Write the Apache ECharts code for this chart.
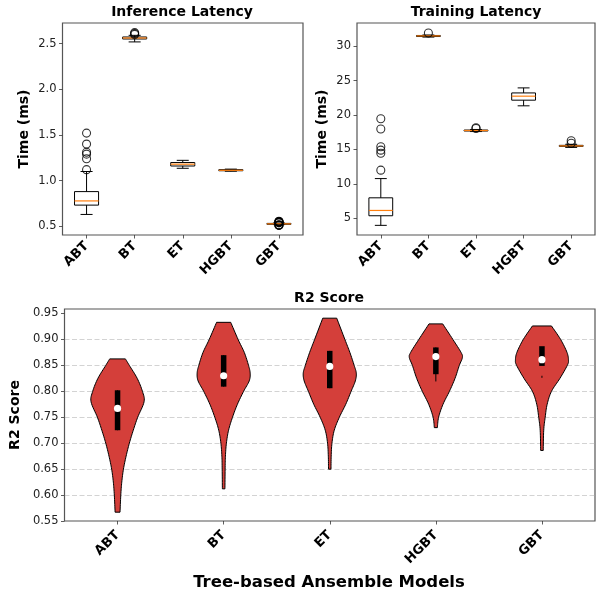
<!DOCTYPE html>
<html><head><meta charset="utf-8">
<script src="https://cdn.jsdelivr.net/npm/echarts@6/dist/echarts.min.js"></script>
<style>html,body{margin:0;padding:0;background:#fff}#c{width:605px;height:595px}</style>
</head><body><div id="c"></div>
<script>
const categories = ['ABT','BT','ET','HGBT','GBT'];

// Boxplots: [lower whisker, Q1, median, Q3, upper whisker]
const inferenceBoxes = [
  [0.63, 0.732, 0.778, 0.88, 1.10],
  [2.518, 2.55, 2.561, 2.572, 2.59],
  [1.135, 1.16, 1.18, 1.198, 1.222],
  [1.103, 1.108, 1.113, 1.12, 1.126],
  [0.519, 0.522, 0.527, 0.532, 0.536]
];
const inferenceOutliers = [
  [1.12, 1.24, 1.29, 1.31, 1.40, 1.52],
  [2.60, 2.61, 2.62],
  [],
  [],
  [0.510, 0.512, 0.514, 0.516, 0.538, 0.541, 0.544, 0.547, 0.550, 0.553, 0.556]
];
const trainingBoxes = [
  [4.0, 5.39, 6.16, 7.99, 10.78],
  [31.3, 31.38, 31.47, 31.53, 31.6],
  [17.6, 17.68, 17.75, 17.82, 17.9],
  [21.33, 22.15, 22.73, 23.2, 23.93],
  [15.3, 15.45, 15.52, 15.6, 15.75]
];
const trainingOutliers = [
  [12.0, 14.45, 14.9, 15.4, 17.96, 19.45],
  [31.9],
  [18.05, 18.15],
  [],
  [15.9, 16.27]
];
const inferenceTicks = [0.5, 1.0, 1.5, 2.0, 2.5];
const trainingTicks = [5, 10, 15, 20, 25, 30];
const r2Ticks = [0.55, 0.60, 0.65, 0.70, 0.75, 0.80, 0.85, 0.90, 0.95];

// R2 violins: estimated density profile (value, relative density), top to bottom
const r2ProfileABT = [0.8625, 0.85, 0.825, 0.80, 0.78, 0.75, 0.725, 0.70, 0.675, 0.65, 0.625, 0.60, 0.567];
const r2DensityABT = [8, 12, 20, 25.3, 27, 20.5, 16, 12, 8.7, 6, 4.3, 3.3, 2.5];
const r2ProfileBT = [0.933, 0.90, 0.875, 0.85, 0.835, 0.82, 0.80, 0.775, 0.75, 0.725, 0.70, 0.675, 0.65, 0.612];
const r2DensityBT = [7.2, 14.7, 21, 25.3, 27, 26, 20.3, 14, 9, 5, 2.8, 1.8, 1.5, 1.3];
const r2ProfileET = [0.941, 0.90, 0.875, 0.85, 0.835, 0.82, 0.80, 0.775, 0.75, 0.725, 0.70, 0.675, 0.65];
const r2DensityET = [7.3, 15.8, 21, 25.5, 27.7, 26.7, 22.3, 16.7, 10, 4.7, 2.3, 1.5, 1.3];
const r2ProfileHGBT = [0.930, 0.90, 0.875, 0.865, 0.85, 0.825, 0.80, 0.775, 0.75, 0.730];
const r2DensityHGBT = [6.7, 16.7, 24.7, 26, 23, 18.8, 13.3, 7, 2.7, 1.5];
const r2ProfileGBT = [0.926, 0.90, 0.875, 0.86, 0.85, 0.825, 0.80, 0.775, 0.75, 0.725, 0.686];
const r2DensityGBT = [9.7, 19, 25.5, 27, 25.8, 18.3, 9.7, 5.3, 3.3, 1.8, 1.3];
const r2Q1 = [0.725, 0.809, 0.806, 0.833, 0.849];
const r2Median = [0.767, 0.830, 0.848, 0.867, 0.861];
const r2Q3 = [0.802, 0.8697, 0.878, 0.8846, 0.887];
const r2WhiskerLow = [0.725, 0.809, 0.806, 0.819, 0.826];
const r2WhiskerHigh = [0.802, 0.8697, 0.878, 0.8846, 0.830];

const r2Profiles = [r2ProfileABT, r2ProfileBT, r2ProfileET, r2ProfileHGBT, r2ProfileGBT];
const r2Densities = [r2DensityABT, r2DensityBT, r2DensityET, r2DensityHGBT, r2DensityGBT];

const FONT = 'DejaVu Sans';

function boxRender(params, api) {
  const x = api.value(0);
  const band = api.size([1, 0])[0];
  const bw = band * 0.5, cw = bw * 0.5;
  const wl = api.coord([x, api.value(1)]);
  const q1 = api.coord([x, api.value(2)]);
  const md = api.coord([x, api.value(3)]);
  const q3 = api.coord([x, api.value(4)]);
  const wh = api.coord([x, api.value(5)]);
  const cx = q1[0];
  const ls = {stroke: '#000', lineWidth: 1};
  return {type: 'group', children: [
    {type: 'line', shape: {x1: cx, y1: wl[1], x2: cx, y2: q1[1]}, style: ls},
    {type: 'line', shape: {x1: cx, y1: q3[1], x2: cx, y2: wh[1]}, style: ls},
    {type: 'line', shape: {x1: cx - cw / 2, y1: wl[1], x2: cx + cw / 2, y2: wl[1]}, style: ls},
    {type: 'line', shape: {x1: cx - cw / 2, y1: wh[1], x2: cx + cw / 2, y2: wh[1]}, style: ls},
    {type: 'rect', shape: {x: cx - bw / 2, y: q3[1], width: bw, height: q1[1] - q3[1]}, style: {fill: 'none', stroke: '#000', lineWidth: 1}},
    {type: 'line', shape: {x1: cx - bw / 2, y1: md[1], x2: cx + bw / 2, y2: md[1]}, style: {stroke: '#ff7f0e', lineWidth: 1.2}}
  ]};
}

function catmull(P) {
  const out = [];
  const n = P.length;
  for (let i = 0; i < n - 1; i++) {
    const p0 = P[Math.max(i - 1, 0)], p1 = P[i], p2 = P[i + 1], p3 = P[Math.min(i + 2, n - 1)];
    const steps = 8;
    for (let s = 0; s < steps; s++) {
      const t = s / steps, t2 = t * t, t3 = t2 * t;
      const f = (a, b, c, d) => 0.5 * ((2 * b) + (-a + c) * t + (2 * a - 5 * b + 4 * c - d) * t2 + (-a + 3 * b - 3 * c + d) * t3);
      out.push([f(p0[0], p1[0], p2[0], p3[0]), f(p0[1], p1[1], p2[1], p3[1])]);
    }
  }
  out.push(P[n - 1]);
  return out;
}

function violinRender(params, api) {
  const i = params.dataIndex;
  const cat = api.value(0);
  const vals = r2Profiles[i], dens = r2Densities[i];
  const maxD = Math.max.apply(null, dens);
  const half = api.size([1, 0])[0] * 0.25;
  const left = [], right = [];
  for (let k = 0; k < vals.length; k++) {
    const p = api.coord([cat, vals[k]]);
    const w = dens[k] / maxD * half;
    left.push([p[0] - w, p[1]]);
    right.push([p[0] + w, p[1]]);
  }
  const L = catmull(left), R = catmull(right).reverse();
  return {type: 'polygon', shape: {points: L.concat(R)}, style: {fill: '#D43F3A', stroke: '#000', lineWidth: 1}};
}

function innerRender(params, api) {
  const x = api.value(0);
  const wl = api.coord([x, api.value(1)]);
  const q1 = api.coord([x, api.value(2)]);
  const md = api.coord([x, api.value(3)]);
  const q3 = api.coord([x, api.value(4)]);
  const wh = api.coord([x, api.value(5)]);
  const cx = q1[0];
  return {type: 'group', children: [
    {type: 'line', shape: {x1: cx, y1: wl[1], x2: cx, y2: wh[1]}, style: {stroke: '#000', lineWidth: 1}},
    {type: 'line', shape: {x1: cx, y1: q1[1], x2: cx, y2: q3[1]}, style: {stroke: '#000', lineWidth: 5.5}},
    {type: 'circle', shape: {cx: cx, cy: md[1], r: 3.6}, style: {fill: '#fff'}}
  ]};
}

function boxData(boxes) { return boxes.map((b, i) => [i].concat(b)); }
function outlierData(outs) {
  const d = [];
  outs.forEach((arr, i) => arr.forEach(v => d.push([i, v])));
  return d;
}

const xLabel = {rotate: 45, fontFamily: FONT, fontWeight: 'bold', fontSize: 13, color: '#000', margin: 9, interval: 0};
const yLabelBase = {fontFamily: FONT, fontSize: 11.5, color: '#222', margin: 6};
const tick = {show: true, inside: false, length: 3.5, lineStyle: {color: '#333', width: 0.8}};
const nameStyle = {fontFamily: FONT, fontWeight: 'bold', fontSize: 14, color: '#000'};

function catAxis(gi) {
  return {type: 'category', gridIndex: gi, data: categories, boundaryGap: true,
    axisLine: {show: false}, axisTick: Object.assign({alignWithLabel: true, interval: 0}, tick),
    axisLabel: xLabel, splitLine: {show: false}};
}

const option = {
  animation: false,
  backgroundColor: '#fff',
  title: [
    {text: 'Inference Latency', left: 182, top: 5, textAlign: 'center', padding: 0,
     textStyle: {fontFamily: FONT, fontWeight: 'bold', fontSize: 14, color: '#000'}},
    {text: 'Training Latency', left: 476, top: 5, textAlign: 'center', padding: 0,
     textStyle: {fontFamily: FONT, fontWeight: 'bold', fontSize: 14, color: '#000'}},
    {text: 'R2 Score', left: 329, top: 291, textAlign: 'center', padding: 0,
     textStyle: {fontFamily: FONT, fontWeight: 'bold', fontSize: 14, color: '#000'}},
    {text: 'Tree-based Ansemble Models', left: 329, top: 574, textAlign: 'center', padding: 0,
     textStyle: {fontFamily: FONT, fontWeight: 'bold', fontSize: 16.5, color: '#000'}}
  ],
  grid: [
    {left: 62.5, right: 302, top: 23, bottom: 360, show: true, borderColor: '#555', borderWidth: 1.2, backgroundColor: 'transparent'},
    {left: 357, right: 10, top: 23, bottom: 360, show: true, borderColor: '#555', borderWidth: 1.2, backgroundColor: 'transparent'},
    {left: 62, right: 10, top: 309, bottom: 74, show: true, borderColor: '#555', borderWidth: 1.2, backgroundColor: 'transparent'}
  ],
  xAxis: [catAxis(0), catAxis(1), Object.assign(catAxis(2), {axisLabel: Object.assign({}, xLabel, {margin: 12})})],
  yAxis: [
    {type: 'value', gridIndex: 0, min: 0.405, max: 2.725, axisLine: {show: false},
     axisTick: Object.assign({customValues: inferenceTicks}, tick),
     axisLabel: Object.assign({customValues: inferenceTicks, formatter: v => v.toFixed(1)}, yLabelBase),
     splitLine: {show: false},
     name: 'Time (ms)', nameLocation: 'middle', nameGap: 31, nameTextStyle: nameStyle},
    {type: 'value', gridIndex: 1, min: 2.6, max: 33.34, axisLine: {show: false},
     axisTick: Object.assign({customValues: trainingTicks}, tick),
     axisLabel: Object.assign({customValues: trainingTicks, formatter: v => String(Math.round(v))}, yLabelBase),
     splitLine: {show: false},
     name: 'Time (ms)', nameLocation: 'middle', nameGap: 28, nameTextStyle: nameStyle},
    {type: 'value', gridIndex: 2, min: 0.55, max: 0.9587, interval: 0.05, axisLine: {show: false},
     axisTick: Object.assign({customValues: r2Ticks}, tick),
     axisLabel: Object.assign({customValues: r2Ticks, formatter: v => v.toFixed(2)}, yLabelBase),
     splitLine: {show: true, showMinLine: false, showMaxLine: false, lineStyle: {color: '#b0b0b0', opacity: 0.7, width: 0.8, type: [5, 2.5]}},
     name: 'R2 Score', nameLocation: 'middle', nameGap: 39, nameTextStyle: nameStyle}
  ],
  series: [
    {type: 'custom', xAxisIndex: 0, yAxisIndex: 0, renderItem: boxRender, data: boxData(inferenceBoxes), encode: {x: 0, y: [1, 2, 3, 4, 5]}, z: 3},
    {type: 'scatter', xAxisIndex: 0, yAxisIndex: 0, data: outlierData(inferenceOutliers), symbol: 'circle', symbolSize: 8,
     itemStyle: {color: 'rgba(0,0,0,0)', borderColor: '#000', borderWidth: 1.1}, z: 4},
    {type: 'custom', xAxisIndex: 1, yAxisIndex: 1, renderItem: boxRender, data: boxData(trainingBoxes), encode: {x: 0, y: [1, 2, 3, 4, 5]}, z: 3},
    {type: 'scatter', xAxisIndex: 1, yAxisIndex: 1, data: outlierData(trainingOutliers), symbol: 'circle', symbolSize: 8,
     itemStyle: {color: 'rgba(0,0,0,0)', borderColor: '#000', borderWidth: 1.1}, z: 4},
    {type: 'custom', xAxisIndex: 2, yAxisIndex: 2, renderItem: violinRender,
     data: categories.map((c, i) => [i, r2Median[i]]), encode: {x: 0, y: 1}, z: 3},
    {type: 'custom', xAxisIndex: 2, yAxisIndex: 2, renderItem: innerRender,
     data: categories.map((c, i) => [i, r2WhiskerLow[i], r2Q1[i], r2Median[i], r2Q3[i], r2WhiskerHigh[i]]),
     encode: {x: 0, y: [1, 2, 3, 4, 5]}, z: 4}
  ]
};
const chart = echarts.init(document.getElementById('c'), null, {renderer: 'canvas'});
chart.setOption(option);
</script>
</body></html>
